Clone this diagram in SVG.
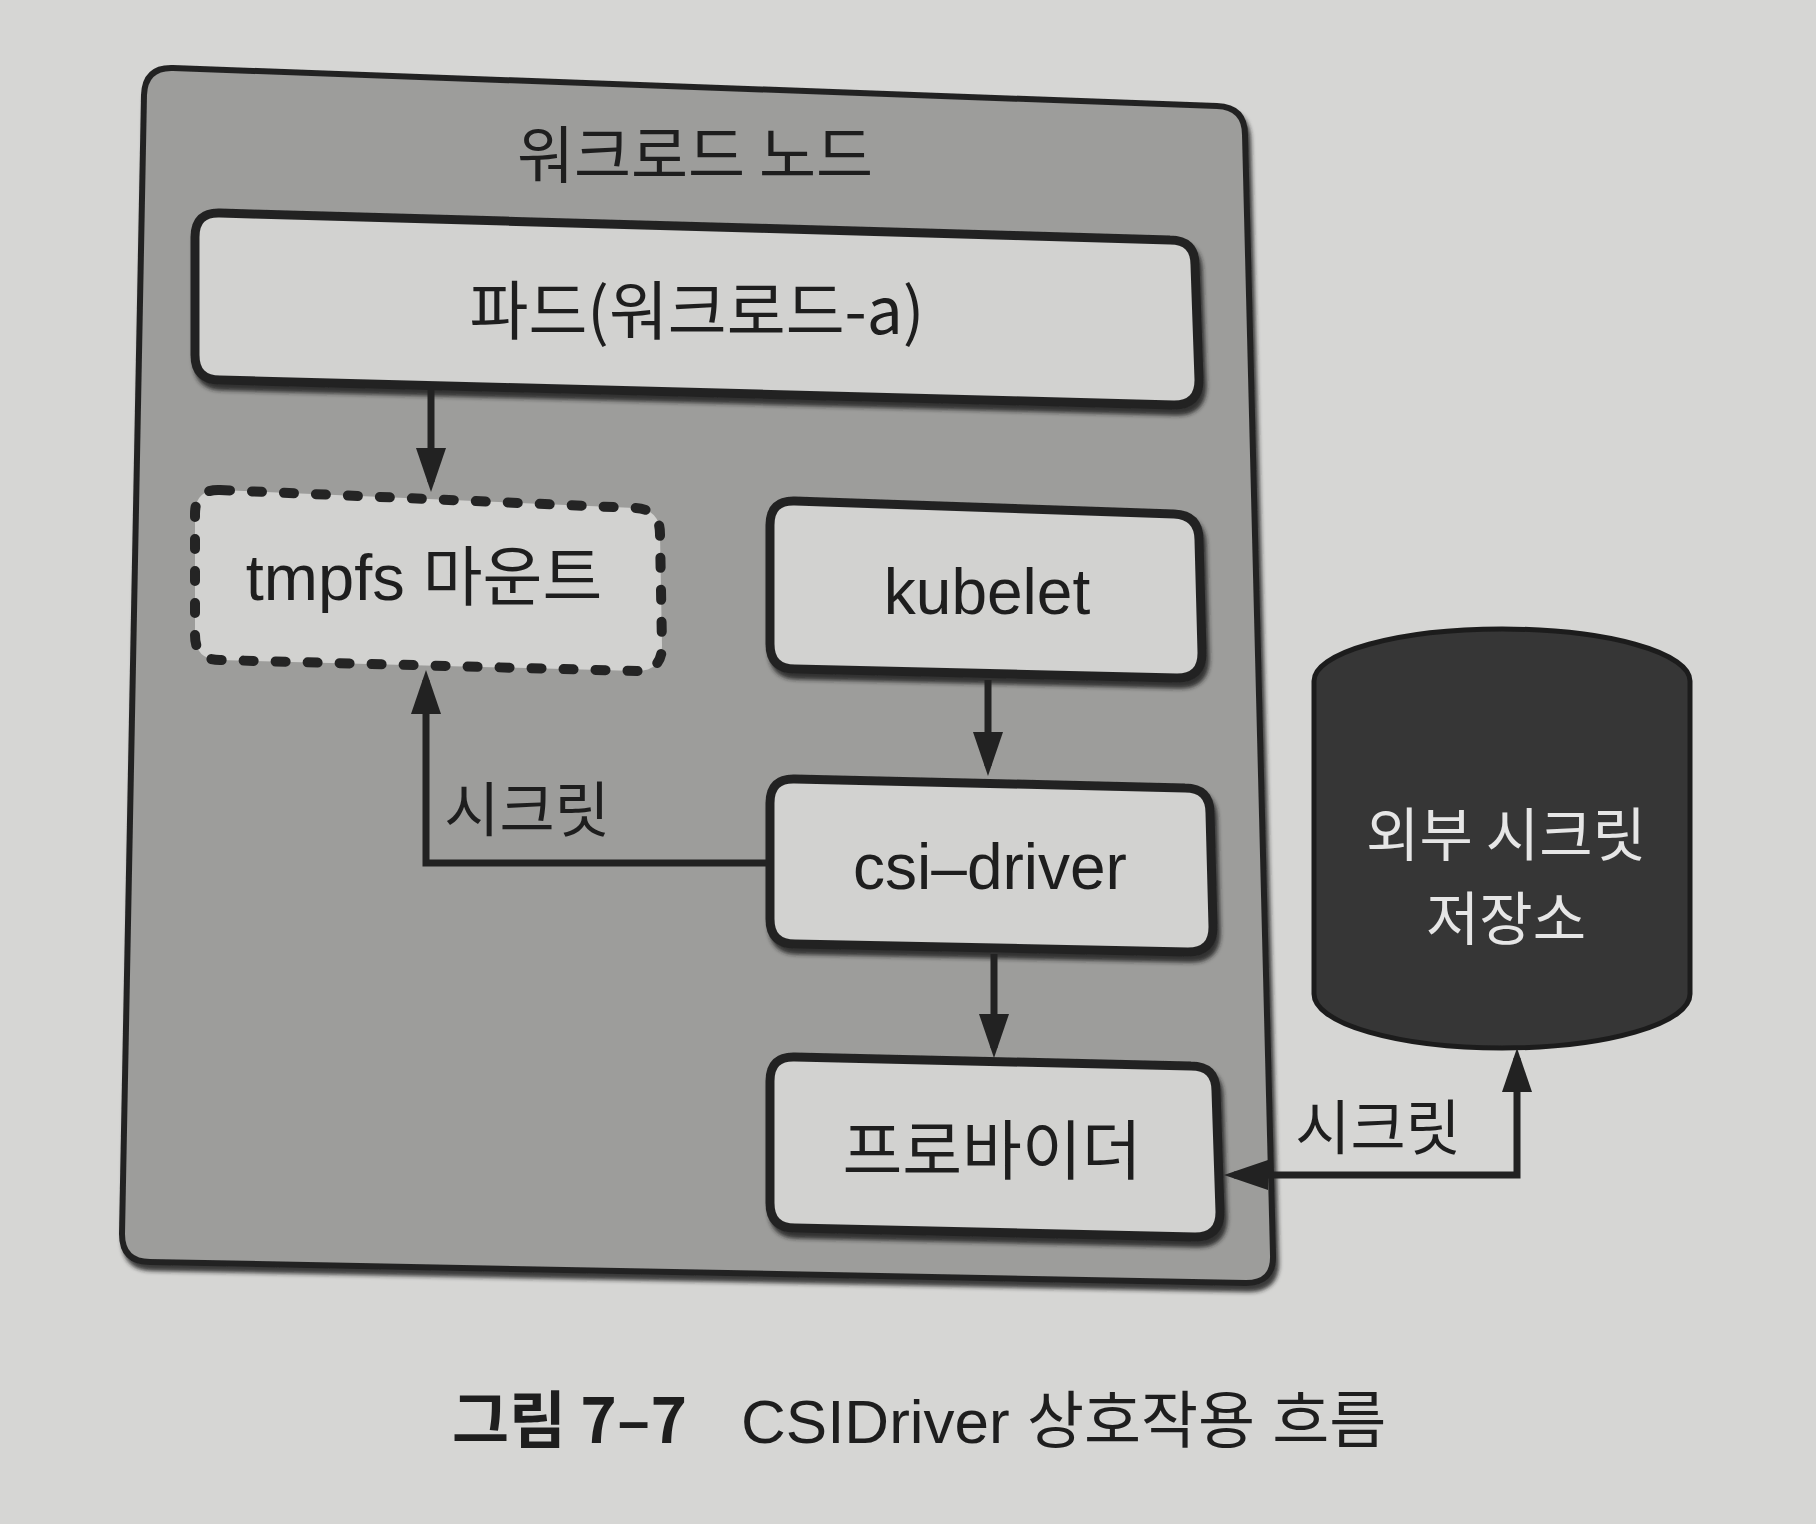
<svg xmlns="http://www.w3.org/2000/svg" width="1816" height="1524" viewBox="0 0 1816 1524">
<style>
.box{fill:#d2d2d0;stroke:#242424;stroke-width:9;filter:url(#sh)}
.dash{fill:#d2d2d0;stroke:#242424;stroke-width:10;stroke-dasharray:10 22;stroke-linecap:round}
.t{font-family:"Liberation Sans","Noto Sans CJK KR",sans-serif;fill:#1e1e1e;text-anchor:middle}
.k{font-family:"Noto Sans CJK KR",sans-serif;fill:#1e1e1e;text-anchor:middle}
.w{font-family:"Noto Sans CJK KR",sans-serif;fill:#e6e6e6;text-anchor:middle}
.con{fill:none;stroke:#222;stroke-width:7}
</style>
<defs>
<filter id="sh" x="-5%" y="-5%" width="110%" height="115%">
<feDropShadow dx="3" dy="6" stdDeviation="2" flood-color="#1a1a1a" flood-opacity="0.85"/>
</filter>
<marker id="ah" viewBox="0 0 44 30" refX="34" refY="15" markerWidth="44" markerHeight="30" markerUnits="userSpaceOnUse" orient="auto-start-reverse">
<path d="M0,0 L44,15 L0,30 Z" fill="#222"/>
</marker>
</defs>
<rect width="1816" height="1524" fill="#d6d6d4"/>
<g id="workload-node">
<path d="M173,68 L1217,106 Q1245,107 1245,135 L1273,1255 Q1274,1283 1246,1283 L150,1262 Q122,1262 122,1234 L144,95 Q145,67 173,68 Z" fill="#9d9d9b" stroke="#242424" stroke-width="6" filter="url(#sh)"/>
<text class="k" x="695" y="178" font-size="62">워크로드 노드</text>
</g>
<g id="pod">
<path class="box" d="M220,213 L1170,240 Q1195,240 1195,265 L1199,380 Q1199,405 1174,405 L220,380 Q195,380 195,355 L195,237 Q195,212 220,213 Z"/>
<text class="k" x="697" y="334" font-size="64">파드(워크로드-a)</text>
</g>
<g id="tmpfs">
<path class="dash" d="M220,490 L635,508 Q660,509 660,534 L662,646 Q662,671 637,671 L220,660 Q195,660 195,635 L195,514 Q195,489 220,490 Z"/>
<text class="t" x="424" y="600" font-size="65">tmpfs 마운트</text>
</g>
<g id="kubelet">
<path class="box" d="M795,501 L1174,514 Q1199,515 1199,540 L1202,653 Q1202,678 1177,678 L795,669 Q770,669 770,644 L770,525 Q770,500 795,501 Z"/>
<text class="t" x="987" y="614" font-size="64">kubelet</text>
</g>
<g id="csi-driver">
<path class="box" d="M795,779 L1185,788 Q1210,788 1210,813 L1213,927 Q1213,952 1188,952 L795,944 Q770,944 770,919 L770,803 Q770,778 795,779 Z"/>
<text class="t" x="990" y="889" font-size="64">csi–driver</text>
</g>
<g id="provider">
<path class="box" d="M795,1057 L1191,1066 Q1216,1066 1216,1091 L1220,1212 Q1220,1237 1195,1237 L795,1228 Q770,1228 770,1203 L770,1081 Q770,1056 795,1057 Z"/>
<text class="k" x="992" y="1174" font-size="65">프로바이더</text>
</g>
<g id="secret-store">
<path d="M1314,681 A188,52 0 0 1 1690,681 L1690,994 A188,54 0 0 1 1314,994 Z" fill="#363636" stroke="#1c1c1c" stroke-width="5"/>
<text class="w" x="1506" y="856" font-size="58">외부 시크릿</text>
<text class="w" x="1506" y="940" font-size="58">저장소</text>
</g>
<g id="connectors">
<path class="con" d="M431,390 L431,482" marker-end="url(#ah)"/>
<path class="con" d="M988,680 L988,766" marker-end="url(#ah)"/>
<path class="con" d="M994,954 L994,1048" marker-end="url(#ah)"/>
<path class="con" d="M770,863 L426,863 L426,680" marker-end="url(#ah)"/>
<path class="con" d="M1517,1058 L1517,1175 L1234,1175" marker-start="url(#ah)" marker-end="url(#ah)"/>
<text class="k" x="527" y="832" font-size="60">시크릿</text>
<text class="k" x="1378" y="1150" font-size="60">시크릿</text>
</g>
<g id="caption">
<text x="452" y="1443" font-size="62" font-weight="bold" font-family="Noto Sans CJK KR, sans-serif" fill="#1e1e1e">그림 7–7</text>
<text x="741" y="1443" font-size="62" font-family="Liberation Sans, Noto Sans CJK KR, sans-serif" fill="#1e1e1e">CSIDriver 상호작용 흐름</text>
</g>
</svg>
